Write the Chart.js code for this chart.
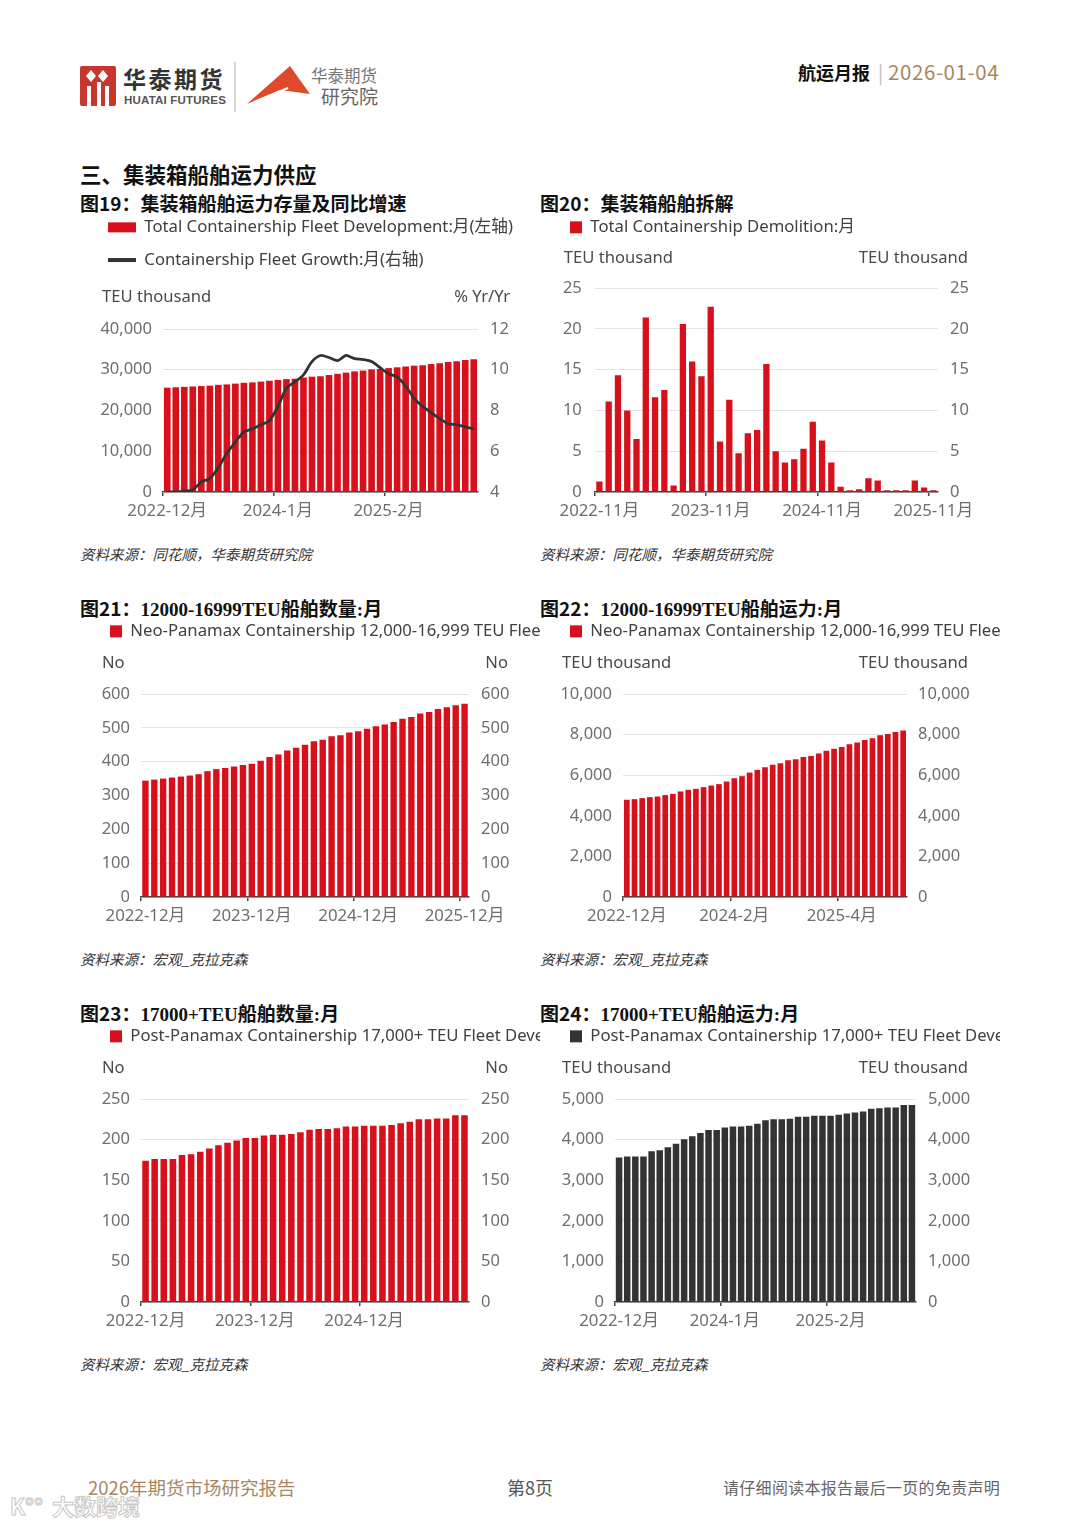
<!DOCTYPE html>
<html lang="zh">
<head>
<meta charset="utf-8">
<script src="https://cdn.jsdelivr.net/npm/chart.js@4.4.1/dist/chart.umd.min.js"></script>
<style>
  html, body { margin: 0; padding: 0; background: #fff; }
  body { width: 1080px; height: 1527px; position: relative; overflow: hidden;
         font-family: "Noto Sans CJK SC", "Noto Sans", sans-serif; color: #111; }
  .t { position: absolute; white-space: nowrap; line-height: 1; }
  .sec { font-size: 21.5px; font-weight: 700; }
  .ttl { font-size: 19px; font-weight: 700; }
  .ttl .s { font-family: "Liberation Serif", "Noto Sans CJK SC", serif; }
  .src { font-size: 14.5px; font-style: italic; color: #333; }
  canvas { position: absolute; }
</style>
</head>
<body>

<!-- header -->
<svg class="t" style="left:78px;top:62px" width="320" height="54" viewBox="0 0 320 54">
  <rect x="2" y="4" width="36" height="40" rx="2" fill="#c8372d"/>
  <path d="M8 14 L13 8 L18 14 L13 20 Z M20 14 L25 8 L30 14 L25 20 Z" fill="#fff"/>
  <path d="M9 24 h4 v20 h-4 Z M19 20 h4 v24 h-4 Z M27 24 h4 v20 h-4 Z" fill="#fff"/>
  <line x1="157" y1="0" x2="157" y2="50" stroke="#bbb" stroke-width="1.2"/>
  <path d="M169 42 L212 4 L232 32 L202 28 Z" fill="#e04a2c"/>
  <path d="M176 40 L210 26" stroke="#fff" stroke-width="2"/>
</svg>
<div class="t" style="left:123px;top:67px;font-size:23px;font-weight:700;color:#333;letter-spacing:2.5px">华泰期货</div>
<div class="t" style="left:124px;top:95px;font-size:11.5px;font-weight:700;color:#555;font-family:'Liberation Sans',sans-serif;letter-spacing:0.2px">HUATAI FUTURES</div>
<div class="t" style="left:311px;top:67px;font-size:16.5px;color:#777">华泰期货</div>
<div class="t" style="left:321px;top:86px;font-size:19px;color:#666">研究院</div>
<div class="t" style="left:798px;top:63px;font-size:18px;font-weight:700;color:#111">航运月报</div>
<div class="t" style="left:878px;top:62px;font-size:19px;color:#bbb">|</div>
<div class="t" style="left:888px;top:61px;font-size:20.5px;color:#a8875f;letter-spacing:0.6px">2026-01-04</div>

<div class="t sec" style="left:80px;top:163px">三、集装箱船舶运力供应</div>

<div class="t ttl" style="left:80px;top:193px">图19：集装箱船舶运力存量及同比增速</div>
<div class="t ttl" style="left:540px;top:193px">图20：集装箱船舶拆解</div>
<div class="t ttl" style="left:80px;top:598px">图21：<span class="s">12000-16999TEU船舶数量:月</span></div>
<div class="t ttl" style="left:540px;top:598px">图22：<span class="s">12000-16999TEU船舶运力:月</span></div>
<div class="t ttl" style="left:80px;top:1003px">图23：<span class="s">17000+TEU船舶数量:月</span></div>
<div class="t ttl" style="left:540px;top:1003px">图24：<span class="s">17000+TEU船舶运力:月</span></div>

<div class="t src" style="left:80px;top:547px">资料来源：同花顺，华泰期货研究院</div>
<div class="t src" style="left:540px;top:547px">资料来源：同花顺，华泰期货研究院</div>
<div class="t src" style="left:80px;top:952px">资料来源：宏观_克拉克森</div>
<div class="t src" style="left:540px;top:952px">资料来源：宏观_克拉克森</div>
<div class="t src" style="left:80px;top:1357px">资料来源：宏观_克拉克森</div>
<div class="t src" style="left:540px;top:1357px">资料来源：宏观_克拉克森</div>

<canvas id="c19" width="440" height="329" style="left:92px;top:203px"></canvas>
<canvas id="c20" width="426" height="329" style="left:554px;top:203px"></canvas>
<canvas id="c21" width="446" height="330" style="left:94px;top:607px"></canvas>
<canvas id="c22" width="446" height="330" style="left:554px;top:607px"></canvas>
<canvas id="c23" width="446" height="330" style="left:94px;top:1012px"></canvas>
<canvas id="c24" width="446" height="330" style="left:554px;top:1012px"></canvas>

<!-- footer -->
<div class="t" style="left:88px;top:1478px;font-size:18.5px;color:#a8875f">2026年期货市场研究报告</div>
<div class="t" style="left:507px;top:1478px;font-size:18px;color:#555">第8页</div>
<div class="t" style="left:723px;top:1479px;font-size:16px;color:#666;letter-spacing:0.3px">请仔细阅读本报告最后一页的免责声明</div>
<div class="t" style="left:52px;top:1494px;font-size:22px;font-weight:700;color:#fff;-webkit-text-stroke:1px #c8c8c8">大数跨境</div>
<div class="t" style="left:10px;top:1494px;font-size:22px;font-weight:700;color:#fff;-webkit-text-stroke:1px #c8c8c8">K°°</div>

<script>
const monthsDec22 = ['2022-12月','2023-1月','2023-2月','2023-3月','2023-4月','2023-5月','2023-6月','2023-7月','2023-8月','2023-9月','2023-10月','2023-11月','2023-12月','2024-1月','2024-2月','2024-3月','2024-4月','2024-5月','2024-6月','2024-7月','2024-8月','2024-9月','2024-10月','2024-11月','2024-12月','2025-1月','2025-2月','2025-3月','2025-4月','2025-5月','2025-6月','2025-7月','2025-8月','2025-9月','2025-10月','2025-11月','2025-12月'];
const monthsNov22 = ['2022-11月','2022-12月','2023-1月','2023-2月','2023-3月','2023-4月','2023-5月','2023-6月','2023-7月','2023-8月','2023-9月','2023-10月','2023-11月','2023-12月','2024-1月','2024-2月','2024-3月','2024-4月','2024-5月','2024-6月','2024-7月','2024-8月','2024-9月','2024-10月','2024-11月','2024-12月','2025-1月','2025-2月','2025-3月','2025-4月','2025-5月','2025-6月','2025-7月','2025-8月','2025-9月','2025-10月','2025-11月'];
const months17k = monthsDec22.slice(0, 36);

// 图19 fleet (TEU thousand) and yoy growth (%)
const fleetTeu = [25600,25700,25800,25900,26000,26100,26300,26400,26600,26800,26900,27100,27300,27500,27700,27800,28100,28300,28400,28700,29000,29300,29600,29800,30100,30200,30400,30600,30800,31000,31100,31400,31600,31900,32100,32400,32600];
const fleetGrowth = [4.0,4.0,4.05,4.1,4.5,4.65,5.2,5.9,6.45,6.95,7.1,7.3,7.5,8.2,9.1,9.4,9.75,10.4,10.7,10.6,10.45,10.7,10.55,10.5,10.4,10.1,9.8,9.65,9.2,8.6,8.2,7.9,7.6,7.35,7.3,7.2,7.1];
// 图20 demolition
const demolition = [1.3,11.1,14.3,10.0,6.5,21.4,11.6,12.5,0.8,20.6,16.0,14.2,22.7,6.2,11.3,4.75,7.2,7.6,15.7,5.0,3.6,4.0,5.3,8.6,6.3,3.6,0.65,0.2,0.35,1.7,1.4,0.2,0.2,0.2,1.4,0.55,0.2];
// 图21 / 图22 neo-panamax
const neoCount = [344,347,350,353,356,359,363,372,378,381,386,390,394,403,414,421,433,441,450,460,465,475,478,486,490,497,505,510,517,527,532,542,547,556,561,567,571];
const neoTeu = [4790,4820,4870,4920,4950,5020,5080,5200,5280,5330,5410,5490,5560,5690,5850,5950,6130,6260,6390,6510,6590,6740,6790,6900,6950,7070,7210,7300,7390,7520,7610,7740,7820,7970,8030,8130,8200];
// 图23 / 图24 post-panamax 17000+
const postCount = [174,176,176,176,181,182,185,189,193,196,199,202,202,205,206,206,207,209,212,213,213,214,216,216,217,217,217,218,220,222,225,225,226,226,230,230];
const postTeu = [3560,3585,3585,3585,3710,3735,3810,3900,4010,4085,4160,4235,4235,4300,4325,4325,4340,4390,4475,4500,4500,4515,4565,4565,4590,4590,4590,4615,4640,4665,4690,4760,4775,4790,4790,4850,4850];

const RED = '#d7111b';
const DARK = '#333333';
const FONT = '"Noto Sans", "Noto Sans CJK SC", sans-serif';

Chart.defaults.font.family = FONT;
Chart.defaults.font.size = 16.5;
Chart.defaults.color = '#6e6e6e';
Chart.defaults.animation = false;

// unit captions above both y axes
const unitsPlugin = {
    id: 'units',
    afterDraw(chart, args, o) {
        const { ctx, chartArea: a } = chart;
        ctx.save();
        ctx.font = '16.6px ' + FONT;
        ctx.fillStyle = '#4a4a4a';
        ctx.textBaseline = 'middle';
        ctx.textAlign = 'left';
        ctx.fillText(o.left, a.left - o.dxL, a.top - o.dy);
        ctx.textAlign = 'right';
        ctx.fillText(o.right, a.right + o.dxR, a.top - o.dy);
        ctx.restore();
    },
};

// fixes the legend box height so the plot starts where it should
function legendGap(h) {
    return {
        id: 'legendGap',
        beforeInit(chart) {
            const fit = chart.legend.fit;
            chart.legend.fit = function () {
                fit.call(this);
                this.height = h;
            };
        },
    };
}

// default legend items, with a thicker stroke for line entries
function legendItems(chart) {
    return Chart.defaults.plugins.legend.labels.generateLabels(chart)
        .map((item) => (item.pointStyle === 'line' ? { ...item, lineWidth: 4 } : item));
}

function build(id, o) {
    const n = o.labels.length;
    return new Chart(document.getElementById(id), {
        type: 'bar',
        data: { labels: o.labels, datasets: o.datasets },
        options: {
            responsive: false,
            animation: false,
            layout: { padding: 0 },
            plugins: {
                legend: {
                    align: 'start',
                    labels: {
                        generateLabels: legendItems,
                        sort: (a, b) => a.datasetIndex - b.datasetIndex,
                        usePointStyle: true,
                        pointStyleWidth: o.boxW,
                        boxHeight: o.boxH,
                        padding: 16,
                        color: '#404040',
                        font: { size: 16.7 },
                    },
                },
                tooltip: { enabled: false },
                units: o.units,
            },
            scales: {
                x: {
                    offset: true,
                    grid: {
                        drawOnChartArea: false,
                        drawTicks: true,
                        tickLength: 4,
                        lineWidth: 1.5,
                        color: (c) => (c.index % o.step === 0 || c.index === n ? '#444' : 'rgba(0,0,0,0)'),
                    },
                    border: { color: '#444', width: 1.5 },
                    ticks: {
                        autoSkip: false,
                        maxRotation: 0,
                        padding: 5,
                        color: '#6e6e6e',
                        font: { size: 16.8 },
                        callback: (v, i) => (i % o.step === 0 ? o.labels[i] : ''),
                    },
                    afterFit: (s) => { s.height = 40; },
                },
                y: {
                    position: 'left',
                    min: o.yMin, max: o.yMax,
                    ticks: { stepSize: o.yStep, padding: o.padL, color: '#6e6e6e' },
                    grid: { color: '#e1e4ec', drawTicks: false, lineWidth: 1 },
                    border: { display: false },
                    afterFit: (s) => { s.width = o.wL; },
                },
                y1: {
                    position: 'right',
                    min: o.y1Min, max: o.y1Max,
                    ticks: { stepSize: o.y1Step, padding: o.padR, color: '#6e6e6e' },
                    grid: { display: false, drawTicks: false },
                    border: { display: false },
                    afterFit: (s) => { s.width = o.wR; },
                },
            },
        },
        plugins: [unitsPlugin, legendGap(o.legendH)],
    });
}

function bars(label, data, color, pct) {
    return {
        label, data, yAxisID: 'y', order: 1,
        backgroundColor: color, borderWidth: 0, pointStyle: 'rect',
        categoryPercentage: 1, barPercentage: pct,
    };
}

build('c19', {
    labels: monthsDec22, step: 13,
    datasets: [
        bars('Total Containership Fleet Development:月(左轴)', fleetTeu, RED, 0.78),
        {
            type: 'line', label: 'Containership Fleet Growth:月(右轴)', data: fleetGrowth,
            yAxisID: 'y1', order: 0, borderColor: DARK, backgroundColor: DARK,
            borderWidth: 2.8, pointRadius: 0, pointStyle: 'line', tension: 0.25,
        },
    ],
    boxW: 28, boxH: 10, legendH: 126,
    yMin: 0, yMax: 40000, yStep: 10000, y1Min: 4, y1Max: 12, y1Step: 2,
    wL: 71, padL: 11, wR: 54, padR: 12,
    units: { left: 'TEU thousand', right: '% Yr/Yr', dxL: 61, dxR: 32, dy: 32 },
});

build('c20', {
    labels: monthsNov22, step: 12,
    datasets: [bars('Total Containership Demolition:月', demolition, RED, 0.68)],
    boxW: 12, boxH: 12, legendH: 85,
    yMin: 0, yMax: 25, yStep: 5, y1Min: 0, y1Max: 25, y1Step: 5,
    wL: 39, padL: 13, wR: 42, padR: 12,
    units: { left: 'TEU thousand', right: 'TEU thousand', dxL: 31, dxR: 30, dy: 30 },
});

build('c21', {
    labels: monthsDec22, step: 12,
    datasets: [bars('Neo-Panamax Containership 12,000-16,999 TEU Fleet Development:月', neoCount, RED, 0.72)],
    boxW: 12, boxH: 12, legendH: 87,
    yMin: 0, yMax: 600, yStep: 100, y1Min: 0, y1Max: 600, y1Step: 100,
    wL: 47, padL: 11, wR: 71, padR: 12,
    units: { left: 'No', right: 'No', dxL: 39, dxR: 39, dy: 31 },
});

build('c22', {
    labels: monthsDec22, step: 14,
    datasets: [bars('Neo-Panamax Containership 12,000-16,999 TEU Fleet Development:月', neoTeu, RED, 0.74)],
    boxW: 12, boxH: 12, legendH: 87,
    yMin: 0, yMax: 10000, yStep: 2000, y1Min: 0, y1Max: 10000, y1Step: 2000,
    wL: 69, padL: 11, wR: 93, padR: 11,
    units: { left: 'TEU thousand', right: 'TEU thousand', dxL: 61, dxR: 61, dy: 31 },
});

build('c23', {
    labels: months17k, step: 12,
    datasets: [bars('Post-Panamax Containership 17,000+ TEU Fleet Development:月', postCount, RED, 0.72)],
    boxW: 12, boxH: 12, legendH: 87,
    yMin: 0, yMax: 250, yStep: 50, y1Min: 0, y1Max: 250, y1Step: 50,
    wL: 47, padL: 11, wR: 71, padR: 12,
    units: { left: 'No', right: 'No', dxL: 39, dxR: 39, dy: 31 },
});

build('c24', {
    labels: monthsDec22, step: 13,
    datasets: [bars('Post-Panamax Containership 17,000+ TEU Fleet Development:月', postTeu, DARK, 0.8)],
    boxW: 12, boxH: 12, legendH: 87,
    yMin: 0, yMax: 5000, yStep: 1000, y1Min: 0, y1Max: 5000, y1Step: 1000,
    wL: 61, padL: 11, wR: 84, padR: 12,
    units: { left: 'TEU thousand', right: 'TEU thousand', dxL: 53, dxR: 52, dy: 31 },
});
</script>
</body>
</html>
